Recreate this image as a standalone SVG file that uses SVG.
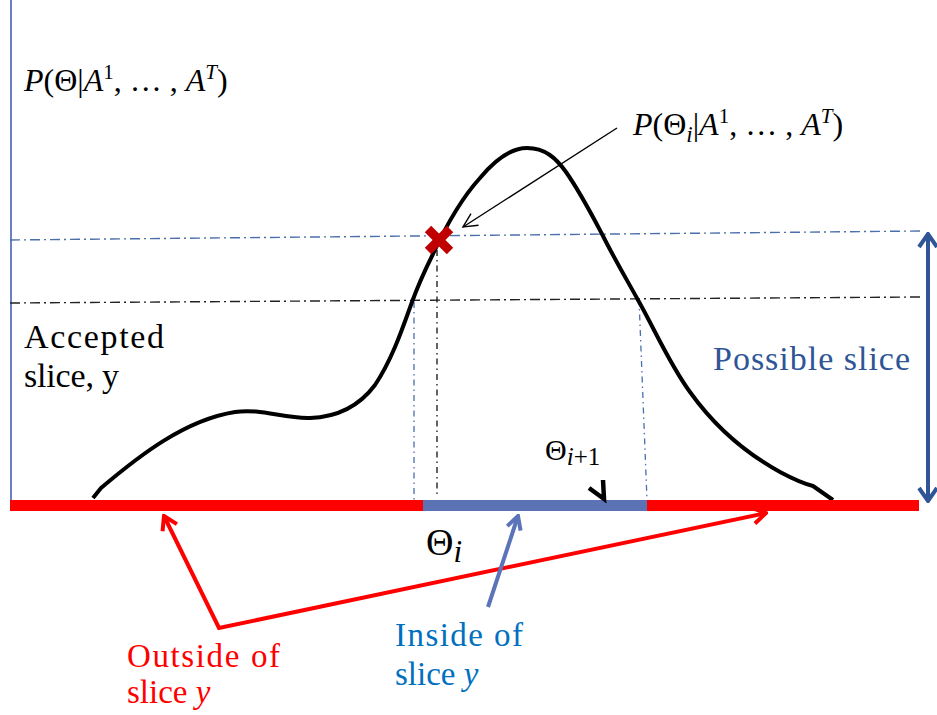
<svg xmlns="http://www.w3.org/2000/svg" width="937" height="715" viewBox="0 0 937 715">
<style>
.m{font-family:"Liberation Serif","DejaVu Serif",serif;fill:#000}
.t{font-family:"Liberation Serif","DejaVu Serif",serif}
.dd{fill:none;stroke-width:1.4;stroke-dasharray:10 4 2 4}
.dv{fill:none;stroke-width:1.3;stroke-dasharray:6 4 1.5 4}
</style>
<defs>
<marker id="ar" viewBox="-16 -10 18 20" refX="0" refY="0" markerWidth="18" markerHeight="20" orient="auto-start-reverse" markerUnits="userSpaceOnUse"><path d="M-13,-8 L0,0 L-13,8" fill="none" stroke="#ff0000" stroke-width="4"/></marker>
<marker id="ab" viewBox="-16 -10 18 20" refX="0" refY="0" markerWidth="18" markerHeight="20" orient="auto-start-reverse" markerUnits="userSpaceOnUse"><path d="M-13,-7 L0,0 L-13,7" fill="none" stroke="#5b73b8" stroke-width="4"/></marker>
<marker id="ad" viewBox="-16 -12 18 24" refX="0" refY="0" markerWidth="18" markerHeight="24" orient="auto-start-reverse" markerUnits="userSpaceOnUse"><path d="M-13,-9 L0,0 L-13,9" fill="none" stroke="#2f5597" stroke-width="4"/></marker>
<marker id="ak" viewBox="-16 -10 18 20" refX="0" refY="0" markerWidth="18" markerHeight="20" orient="auto" markerUnits="userSpaceOnUse"><path d="M-14,-7 L0,0 L-14,7" fill="none" stroke="#000" stroke-width="1.4"/></marker>
</defs>
<rect width="937" height="715" fill="#fff"/>

<g id="axis">
<line x1="11" y1="0" x2="11" y2="500" stroke="#6b80c0" stroke-width="2"/>
</g>

<g id="guides">
<line class="dd" x1="10" y1="240" x2="920" y2="231" stroke="#4a6fad"/>
<line class="dd" x1="10" y1="303" x2="920" y2="297" stroke="#222"/>
<line class="dv" x1="414" y1="302" x2="414" y2="500" stroke="#4a6fad"/>
<line class="dv" x1="437" y1="250" x2="437" y2="494" stroke="#111"/>
<line class="dv" x1="639" y1="299" x2="647" y2="500" stroke="#4a6fad"/>
</g>

<g id="curve">
<path d="M93,498 L101,488 C140,455 185,420 235,412 C260,408 285,419 310,418 C340,417 360,405 375,385 C392,360 403,327 412,302 C420,280 426,268 433,254 C445,228 460,200 480,178 C495,160 510,148 527,148 C545,148 556,158 566,172 C580,192 592,215 602,234 C615,260 627,280 638,300 C655,330 670,365 690,392 C710,420 740,450 780,472 C795,480 805,484 813,486 L833,500" fill="none" stroke="#000" stroke-width="4" stroke-linejoin="round"/>
</g>

<g id="bar">
<line x1="10" y1="505.5" x2="423" y2="505.5" stroke="#ff0000" stroke-width="11"/>
<line x1="423" y1="505.5" x2="647" y2="505.5" stroke="#5b72b5" stroke-width="11"/>
<line x1="647" y1="505.5" x2="919" y2="505.5" stroke="#ff0000" stroke-width="11"/>
</g>

<g id="xmark">
<line x1="428" y1="229" x2="450" y2="251" stroke="#c00000" stroke-width="9"/>
<line x1="450" y1="229" x2="428" y2="251" stroke="#c00000" stroke-width="9"/>
</g>

<g id="connectors">
<line x1="617" y1="128" x2="463" y2="227" stroke="#000" stroke-width="1.4" marker-end="url(#ak)"/>
<line x1="928" y1="234" x2="928" y2="501" stroke="#2f5597" stroke-width="4" marker-start="url(#ad)" marker-end="url(#ad)"/>
<polyline points="164,516 219,628 766,513" fill="none" stroke="#ff0000" stroke-width="4" stroke-linejoin="miter" marker-start="url(#ar)" marker-end="url(#ar)"/>
<line x1="488" y1="607" x2="518" y2="516" stroke="#5b73b8" stroke-width="4" marker-end="url(#ab)"/>
<path d="M589,488 L604,499 L603,480" fill="none" stroke="#000" stroke-width="4.5" stroke-linejoin="miter"/>
</g>

<g id="label-py">
<text class="m" x="24" y="91" font-size="32"><tspan font-style="italic">P</tspan>(Θ|<tspan font-style="italic">A</tspan><tspan dy="-12" font-size="21">1</tspan><tspan dy="12">, … , </tspan><tspan font-style="italic">A</tspan><tspan dy="-12" font-size="21" font-style="italic">T</tspan><tspan dy="12">)</tspan></text>
</g>

<g id="label-pi">
<text class="m" x="633" y="135" font-size="32"><tspan font-style="italic">P</tspan>(Θ<tspan dy="7" font-size="23" font-style="italic">i</tspan><tspan dy="-7">|</tspan><tspan font-style="italic">A</tspan><tspan dy="-12" font-size="21">1</tspan><tspan dy="12">, … , </tspan><tspan font-style="italic">A</tspan><tspan dy="-12" font-size="21" font-style="italic">T</tspan><tspan dy="12">)</tspan></text>
</g>

<g id="label-accepted">
<text class="t" x="24" y="348" font-size="34" fill="#000" textLength="140">Accepted</text>
<text class="t" x="24" y="387" font-size="34" fill="#000" textLength="95">slice, y</text>
</g>

<g id="label-possible">
<text class="t" x="713" y="370" font-size="34" fill="#2f5597" textLength="197">Possible slice</text>
</g>

<g id="label-thetai1">
<text class="m" x="545" y="460" font-size="30">Θ<tspan dy="5" font-size="25" font-style="italic">i</tspan><tspan font-size="25">+1</tspan></text>
</g>

<g id="label-thetai">
<text class="m" x="426" y="555" font-size="38">Θ<tspan dy="7" font-size="31" font-style="italic">i</tspan></text>
</g>

<g id="label-inside">
<text class="t" x="395" y="646" font-size="33" fill="#0070c0" textLength="128">Inside of</text>
<text class="t" x="395" y="685" font-size="33" fill="#0070c0">slice <tspan font-style="italic">y</tspan></text>
</g>

<g id="label-outside">
<text class="t" x="127" y="667" font-size="33" fill="#ff0000" textLength="153">Outside of</text>
<text class="t" x="127" y="703" font-size="33" fill="#ff0000">slice <tspan font-style="italic">y</tspan></text>
</g>
</svg>
